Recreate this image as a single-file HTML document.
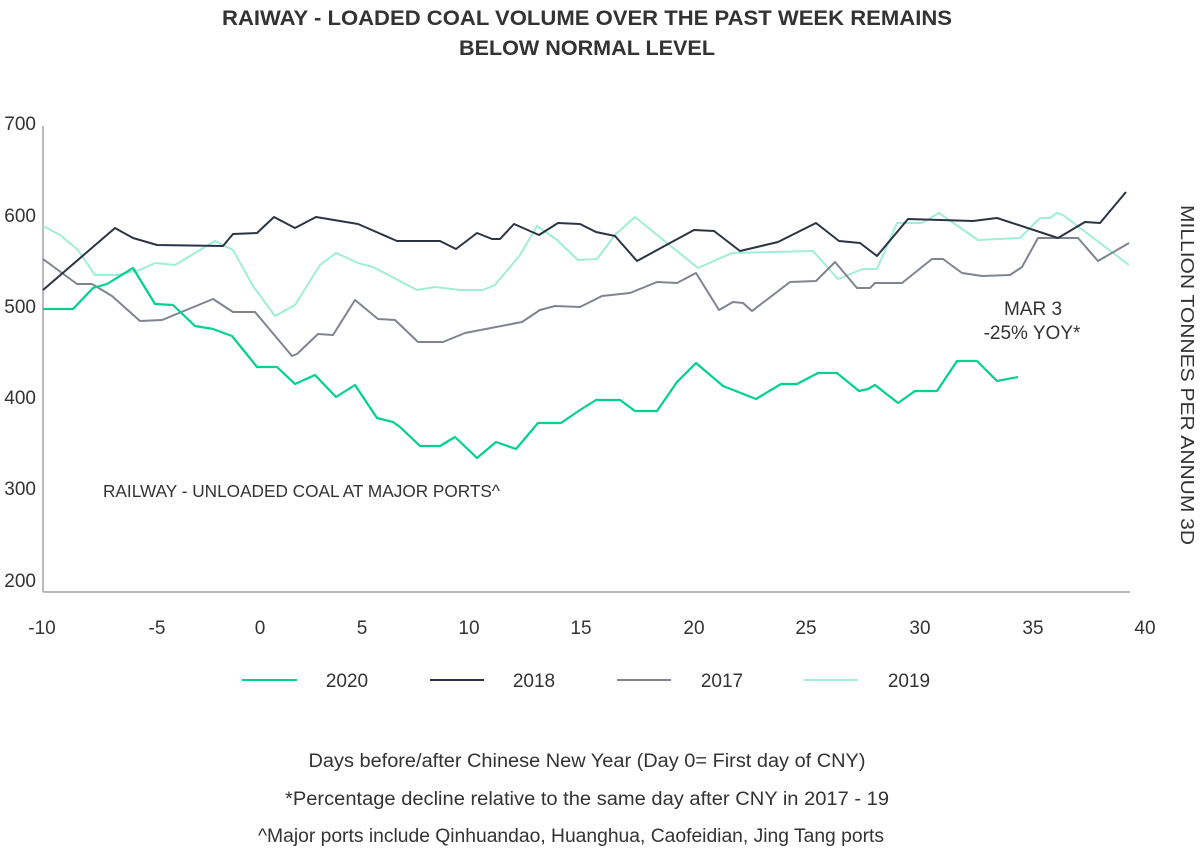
<!DOCTYPE html>
<html><head><meta charset="utf-8"><style>
html,body{margin:0;padding:0;background:#fff;}
svg{display:block;}
text{font-family:"Liberation Sans",sans-serif;fill:#333;}
</style></head><body>
<svg width="1200" height="849" viewBox="0 0 1200 849" xmlns="http://www.w3.org/2000/svg">
<text x="587" y="25" text-anchor="middle" font-size="21" font-weight="bold" fill="#111" textLength="730" lengthAdjust="spacingAndGlyphs">RAIWAY - LOADED COAL VOLUME OVER THE PAST WEEK REMAINS</text>
<text x="587" y="55" text-anchor="middle" font-size="21" font-weight="bold" fill="#111" textLength="256" lengthAdjust="spacingAndGlyphs">BELOW NORMAL LEVEL</text>

<g font-size="19" text-anchor="end">
<text x="36" y="130">700</text>
<text x="36" y="222">600</text>
<text x="36" y="313">500</text>
<text x="36" y="404">400</text>
<text x="36" y="495">300</text>
<text x="36" y="587">200</text>
</g>
<g font-size="19" text-anchor="middle">
<text x="42" y="634">-10</text>
<text x="157" y="634">-5</text>
<text x="260" y="634">0</text>
<text x="362" y="634">5</text>
<text x="469" y="634">10</text>
<text x="581" y="634">15</text>
<text x="694" y="634">20</text>
<text x="806" y="634">25</text>
<text x="920" y="634">30</text>
<text x="1033" y="634">35</text>
<text x="1145" y="634">40</text>
</g>
<line x1="43" y1="126" x2="43" y2="592" stroke="#a0a4aa" stroke-width="1.5"/>
<line x1="43" y1="592" x2="1130" y2="592" stroke="#a0a4aa" stroke-width="1.5"/>

<g fill="none" stroke-width="2" stroke-linejoin="round">
<polyline stroke="#9FEED5" points="43,226 60,235 78,250 95,275 117,275 140,270 155,263 175,265 215,241 233,250 253,286 275,316 295,305 320,265 336,253 358,263 373,267 417,290 435,287 460,290 483,290 495,285 520,255 537,226 557,240 578,260 597,259 615,235 635,217 667,243 698,268 732,253 813,251 838,279 863,269 877,269 897,223 922,223 939,213 978,240 1020,238 1040,218 1050,218 1057,213 1063,215 1129,265"/>
<polyline stroke="#7F8490" points="43,259 77,284 92,284 112,296 140,321 162,320 213,299 233,312 255,312 292,356 297,354 318,334 333,335 355,300 378,319 395,320 418,342 443,342 465,333 522,322 540,310 555,306 580,307 602,296 630,293 657,282 677,283 696,273 719,310 733,302 743,303 752,311 790,282 816,281 835,262 857,288 870,288 875,283 902,283 932,259 943,259 962,273 982,276 1010,275 1022,267 1038,238 1078,238 1098,261 1129,243"/>
<polyline stroke="#2B3444" points="43,290 115,228 133,238 157,245 223,246 233,234 257,233 274,217 295,228 316,217 358,224 397,241 440,241 456,249 477,233 492,239 500,239 514,224 539,235 558,223 580,224 596,232 615,236 637,261 670,243 694,230 714,231 740,251 778,242 816,223 839,241 860,243 877,256 908,219 973,221 997,218 1058,238 1085,222 1100,223 1126,192"/>
<polyline stroke="#00D18F" stroke-width="2.2" points="43,309 73,309 93,288 107,284 133,268 155,304 173,305 195,326 213,329 232,336 257,367 277,367 295,384 315,375 336,397 355,385 377,418 393,422 400,427 420,446 440,446 455,437 477,458 496,442 516,449 538,423 561,423 580,410 596,400 620,400 635,411 657,411 677,382 696,363 723,386 756,399 781,384 797,384 818,373 837,373 859,391 868,389 875,385 898,403 915,391 937,391 957,361 977,361 997,381 1018,377"/>
</g>

<text x="103" y="497" font-size="17.5" textLength="397" lengthAdjust="spacingAndGlyphs">RAILWAY - UNLOADED COAL AT MAJOR PORTS^</text>
<text x="1033" y="315" font-size="19" text-anchor="middle">MAR 3</text>
<text x="1032" y="339" font-size="19" text-anchor="middle">-25% YOY*</text>
<text transform="translate(1181,375) rotate(90)" font-size="18" text-anchor="middle" textLength="340" lengthAdjust="spacingAndGlyphs">MILLION TONNES PER ANNUM 3D</text>

<g stroke-width="2">
<line x1="242" y1="680" x2="297" y2="680" stroke="#00D18F"/>
<line x1="430" y1="680" x2="484" y2="680" stroke="#2B3444"/>
<line x1="617" y1="680" x2="671" y2="680" stroke="#7F8490"/>
<line x1="804" y1="680" x2="858" y2="680" stroke="#9FEED5"/>
</g>
<g font-size="19" text-anchor="middle">
<text x="347" y="687">2020</text>
<text x="534" y="687">2018</text>
<text x="722" y="687">2017</text>
<text x="909" y="687">2019</text>
<text x="587" y="767" textLength="557" lengthAdjust="spacingAndGlyphs">Days before/after Chinese New Year (Day 0= First day of CNY)</text>
<text x="587" y="805" textLength="604" lengthAdjust="spacingAndGlyphs">*Percentage decline relative to the same day after CNY in 2017 - 19</text>
<text x="571" y="842" textLength="626" lengthAdjust="spacingAndGlyphs">^Major ports include Qinhuandao, Huanghua, Caofeidian, Jing Tang ports</text>
</g>
</svg>
</body></html>
